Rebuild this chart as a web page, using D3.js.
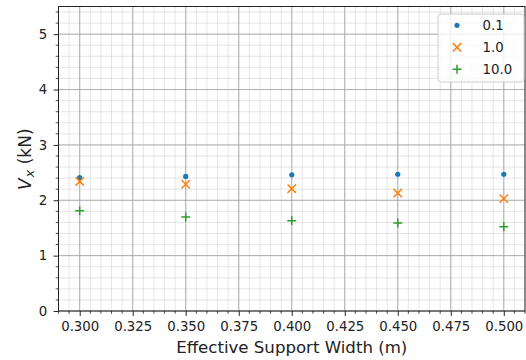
<!DOCTYPE html>
<html>
<head>
<meta charset="utf-8">
<script src="https://cdn.jsdelivr.net/npm/d3@7"></script>
<style>
  html, body { margin: 0; padding: 0; background: #fff; }
  svg { display: block; font-family: "DejaVu Sans", sans-serif; }
</style>
</head>
<body>
<svg id="chart" width="526" height="360"></svg>
<script>
// Effective support width (m)
const widths = [0.30, 0.35, 0.40, 0.45, 0.50];
// Shear force Vx (kN) for each series
const seriesNames = ["0.1", "1.0", "10.0"];
const vx01 = [2.41, 2.43, 2.46, 2.47, 2.47];
const vx10 = [2.34, 2.29, 2.21, 2.13, 2.03];
const vx100 = [1.81, 1.70, 1.63, 1.59, 1.52];
const xTicks = [0.300, 0.325, 0.350, 0.375, 0.400, 0.425, 0.450, 0.475, 0.500];
const yTicks = [0, 1, 2, 3, 4, 5];

const seriesValues = [vx01, vx10, vx100];
const colors = ["#1f77b4", "#ff7f0e", "#2ca02c"];
const shapes = ["dot", "cross", "plus"];

const svg = d3.select("#chart");
const margin = { left: 58.5, top: 6.5, right: 1, bottom: 49 };
const W = 526, H = 360;
const x = d3.scaleLinear().domain([0.29, 0.51]).range([margin.left, W - margin.right]);
const y = d3.scaleLinear().domain([0, 5.5]).range([H - margin.bottom, margin.top]);

const plot = svg.append("g");

// minor grid
const xMinor = d3.range(0.29, 0.5101, 0.005).map(v => +v.toFixed(3));
const yMinor = d3.range(0, 5.501, 0.2).map(v => +v.toFixed(2));
plot.append("g").selectAll("line").data(xMinor).join("line")
  .attr("x1", d => x(d)).attr("x2", d => x(d))
  .attr("y1", y(0)).attr("y2", y(5.5))
  .attr("stroke", "#b0b0b0").attr("stroke-opacity", 0.4).attr("stroke-width", 0.8);
plot.append("g").selectAll("line").data(yMinor).join("line")
  .attr("y1", d => y(d)).attr("y2", d => y(d))
  .attr("x1", x(0.29)).attr("x2", x(0.51))
  .attr("stroke", "#b0b0b0").attr("stroke-opacity", 0.4).attr("stroke-width", 0.8);

// major grid
plot.append("g").selectAll("line").data(xTicks).join("line")
  .attr("x1", d => x(d)).attr("x2", d => x(d))
  .attr("y1", y(0)).attr("y2", y(5.5))
  .attr("stroke", "#a8a8a8").attr("stroke-opacity", 0.9).attr("stroke-width", 1);
plot.append("g").selectAll("line").data(yTicks).join("line")
  .attr("y1", d => y(d)).attr("y2", d => y(d))
  .attr("x1", x(0.29)).attr("x2", x(0.51))
  .attr("stroke", "#a8a8a8").attr("stroke-opacity", 0.9).attr("stroke-width", 1);

// markers
function drawMarker(g, shape, color, cx, cy) {
  if (shape === "dot") {
    g.append("circle").attr("cx", cx).attr("cy", cy).attr("r", 2.6).attr("fill", color);
  } else if (shape === "cross") {
    const s = 4.2;
    g.append("path").attr("d", `M${cx - s},${cy - s}L${cx + s},${cy + s}M${cx - s},${cy + s}L${cx + s},${cy - s}`)
      .attr("stroke", color).attr("stroke-width", 1.5).attr("fill", "none");
  } else {
    const s = 4.5;
    g.append("path").attr("d", `M${cx - s},${cy}L${cx + s},${cy}M${cx},${cy - s}L${cx},${cy + s}`)
      .attr("stroke", color).attr("stroke-width", 1.5).attr("fill", "none");
  }
}

const marks = plot.append("g");
seriesValues.forEach((vals, i) => {
  const g = marks.append("g");
  vals.forEach((v, j) => drawMarker(g, shapes[i], colors[i], x(widths[j]), y(v)));
});

// axes
const fontTick = 13.3;
const xAxis = d3.axisBottom(x).tickValues(xTicks).tickFormat(d3.format(".3f")).tickSizeInner(4.9).tickSizeOuter(0).tickPadding(5.8);
const yAxis = d3.axisLeft(y).tickValues(yTicks).tickFormat(d3.format("d")).tickSizeInner(4.9).tickSizeOuter(0).tickPadding(6.5);

const gx = svg.append("g").attr("transform", `translate(0,${y(0)})`).call(xAxis);
const gy = svg.append("g").attr("transform", `translate(${x(0.29)},0)`).call(yAxis);
[gx, gy].forEach(g => {
  g.select(".domain").remove();
  g.selectAll("line").attr("stroke", "#222").attr("stroke-width", 1);
  g.selectAll("text").attr("fill", "#222").style("font-size", fontTick + "px").style("font-family", "DejaVu Sans");
});

// minor ticks
svg.append("g").selectAll("line").data(xMinor.filter(v => !xTicks.some(t => Math.abs(t - v) < 1e-6))).join("line")
  .attr("x1", d => x(d)).attr("x2", d => x(d))
  .attr("y1", y(0)).attr("y2", y(0) + 2.8)
  .attr("stroke", "#222").attr("stroke-width", 0.8);
svg.append("g").selectAll("line").data(yMinor.filter(v => !yTicks.some(t => Math.abs(t - v) < 1e-6))).join("line")
  .attr("y1", d => y(d)).attr("y2", d => y(d))
  .attr("x1", x(0.29)).attr("x2", x(0.29) - 2.8)
  .attr("stroke", "#222").attr("stroke-width", 0.8);

// frame
svg.append("rect")
  .attr("x", x(0.29)).attr("y", y(5.5))
  .attr("width", x(0.51) - x(0.29)).attr("height", y(0) - y(5.5))
  .attr("fill", "none").attr("stroke", "#222").attr("stroke-width", 1);

// axis labels
svg.append("text")
  .attr("x", (x(0.29) + x(0.51)) / 2).attr("y", 353)
  .attr("text-anchor", "middle").attr("fill", "#222")
  .style("font-size", "16.6px")
  .text("Effective Support Width (m)");

const yl = svg.append("text")
  .attr("transform", `translate(30.5,${(y(0) + y(5.5)) / 2 + 0.5}) rotate(-90)`)
  .attr("text-anchor", "middle").attr("fill", "#222")
  .style("font-size", "17px");
yl.append("tspan").style("font-style", "italic").text("V");
yl.append("tspan").style("font-style", "italic").style("font-size", "13px").attr("dy", 3).attr("dx", 1).text("x");
yl.append("tspan").attr("dy", -3).text(" (kN)");

// legend
const lg = svg.append("g");
lg.append("rect")
  .attr("x", 438).attr("y", 14).attr("width", 86).attr("height", 68).attr("rx", 3)
  .attr("fill", "#fff").attr("fill-opacity", 0.8)
  .attr("stroke", "#ccc").attr("stroke-width", 1);
seriesNames.forEach((name, i) => {
  const cy = 25.3 + i * 22;
  drawMarker(lg, shapes[i], colors[i], 457, cy);
  lg.append("text").attr("x", 482.5).attr("y", cy).attr("dy", "0.35em")
    .attr("fill", "#222").style("font-size", fontTick + "px").text(name);
});
</script>
</body>
</html>
